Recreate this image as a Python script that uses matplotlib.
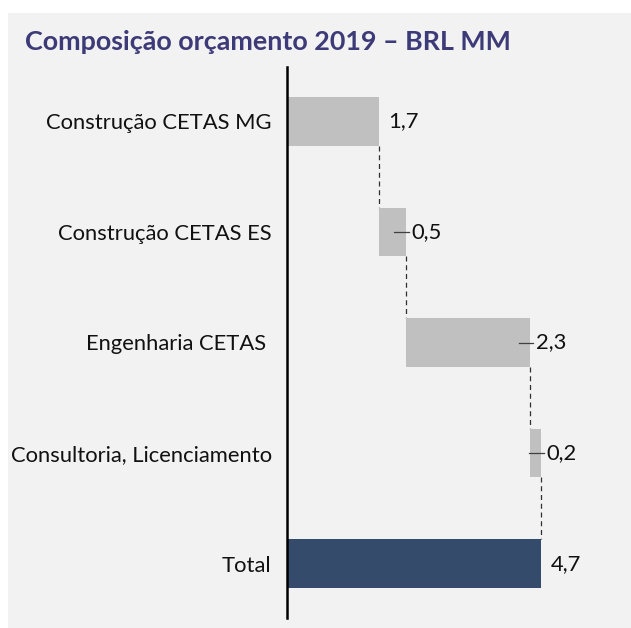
import matplotlib.pyplot as plt
from matplotlib.patches import Rectangle

# Composição do orçamento (BRL MM)
categorias = ['Construção CETAS MG', 'Construção CETAS ES', 'Engenharia CETAS ',
              'Consultoria, Licenciamento', 'Total']
valores = [1.7, 0.5, 2.3, 0.2]
total = 4.7
rotulos = ['1,7', '0,5', '2,3', '0,2', '4,7']
com_guia = [False, True, True, True, False]

cor_barra = '#c0c0c0'
cor_total = '#354b6c'
cor_fundo = '#f2f2f2'
cor_titulo = '#3d3a78'

plt.rcParams['font.family'] = ['Lato', 'DejaVu Sans']

fig = plt.figure(figsize=(6.31, 6.28), dpi=100)
fig.patch.set_facecolor('white')
fig.patches.append(Rectangle((8 / 631, 0), 1, 1 - 13 / 628, transform=fig.transFigure,
                             facecolor=cor_fundo, edgecolor='none', zorder=-10))

ax = fig.add_axes([287 / 631, 10 / 628, 344 / 631, 551 / 628])
ax.patch.set_alpha(0)

# barras flutuantes
inicio = 0
bases = []
for i, v in enumerate(valores):
    bases.append(inicio)
    ax.barh(i, v, left=inicio, height=0.44, color=cor_barra, zorder=2)
    inicio += v
ax.barh(len(valores), total, left=0, height=0.44, color=cor_total, zorder=2)

# conectores tracejados
fins = [b + v for b, v in zip(bases, valores)]
for i, x in enumerate(fins):
    ax.plot([x, x], [i + 0.22, i + 0.78], color='#303030', lw=0.9,
            ls=(0, (4, 3)), zorder=1)

# rótulos de valor
ends = fins + [total]
for i, (x, txt) in enumerate(zip(ends, rotulos)):
    if com_guia[i]:
        ax.plot([x - 0.22, x + 0.05], [i, i], color='#404040', lw=0.9, zorder=3)
        ax.text(x + 0.1, i, txt, va='center', ha='left', fontsize=15.8, color='#111111')
    else:
        ax.text(x + 0.17, i, txt, va='center', ha='left', fontsize=15.8, color='#111111')

ax.set_xlim(0, 344 / 54.1)
ax.set_ylim(4.49, -0.49)
ax.set_yticks(range(len(categorias)))
ax.set_yticklabels(categorias, fontsize=15.8, color='#111111')
ax.tick_params(axis='y', length=0, pad=11)
ax.set_xticks([])
for s in ['top', 'right', 'bottom']:
    ax.spines[s].set_visible(False)
ax.spines['left'].set_linewidth(1.8)
ax.spines['left'].set_color('black')

fig.text(25 / 631, 1 - 42 / 628, 'Composição orçamento 2019 – BRL MM', fontsize=19.4,
         fontweight='bold', color=cor_titulo, va='center', ha='left')

fig.savefig('out.png', dpi=100, facecolor=fig.get_facecolor())
